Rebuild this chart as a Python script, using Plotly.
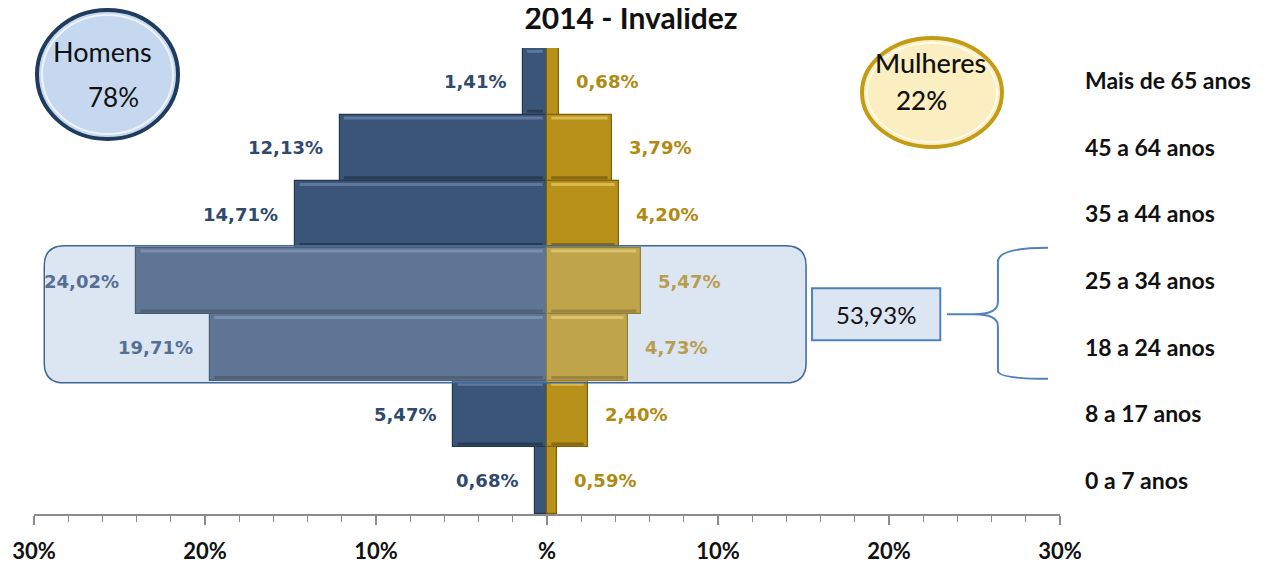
import plotly.graph_objects as go

# ---------------- data ----------------
categories = ["0 a 7 anos", "8 a 17 anos", "18 a 24 anos", "25 a 34 anos",
              "35 a 44 anos", "45 a 64 anos", "Mais de 65 anos"]
homens = [0.68, 5.47, 19.71, 24.02, 14.71, 12.13, 1.41]
mulheres = [0.59, 2.40, 4.73, 5.47, 4.20, 3.79, 0.68]
highlight_groups = ["18 a 24 anos", "25 a 34 anos"]
total_homens_pct = "78%"
total_mulheres_pct = "22%"
x_tickvals = [-30, -20, -10, 0, 10, 20, 30]
x_ticktext = ["30%", "20%", "10%", "%", "10%", "20%", "30%"]
title_text = "2014 - Invalidez"

# ---------------- styling ----------------
BLUE = "#3b5579"
BLUE_EDGE = "#24374f"
GOLD = "#b8911b"
GOLD_EDGE = "#7d610c"
LBL_BLUE = "#2f4a6d"
LBL_BLUE_HL = "#566f93"
LBL_GOLD = "#b08a12"
LBL_GOLD_HL = "#b89c50"
BOX_FILL = "#dce6f2"
BOX_LINE = "#4f81bd"
CAT_FONT = "Lato"
LBL_FONT = "DejaVu Sans"

# page body has an 8px margin: figure is 8px smaller on each axis
W, H = 1276, 556
OFF = 8

ypos = list(range(len(categories)))
hl_idx = [categories.index(c) for c in highlight_groups]

fig = go.Figure()
fig.add_trace(go.Bar(
    y=ypos, x=[-v for v in homens], orientation="h", name="Homens",
    marker=dict(color=BLUE, line=dict(color=BLUE_EDGE, width=1.2)),
    hoverinfo="skip"))
fig.add_trace(go.Bar(
    y=ypos, x=mulheres, orientation="h", name="Mulheres",
    marker=dict(color=GOLD, line=dict(color=GOLD_EDGE, width=1.2)),
    hoverinfo="skip"))

def fmt(v):
    return f"{v:.2f}%".replace(".", ",")

annotations = []
for i, (h, m) in enumerate(zip(homens, mulheres)):
    hl = i in hl_idx
    annotations.append(dict(
        x=-h, y=i, xref="x", yref="y", text=fmt(h), showarrow=False,
        xanchor="right", yanchor="middle", xshift=-15,
        font=dict(family=LBL_FONT, size=18, color=LBL_BLUE_HL if hl else LBL_BLUE, weight="bold")))
    annotations.append(dict(
        x=m, y=i, xref="x", yref="y", text=fmt(m), showarrow=False,
        xanchor="left", yanchor="middle", xshift=15,
        font=dict(family=LBL_FONT, size=18, color=LBL_GOLD_HL if hl else LBL_GOLD, weight="bold")))

shapes = []
# bevel highlights on bars (derived from data)
bw = 0.5
for i, (h, m) in enumerate(zip(homens, mulheres)):
    for x0, x1, light, dark in ((-h, 0, "rgba(140,165,200,0.45)", "rgba(20,30,45,0.45)"),
                                (0, m, "rgba(255,225,130,0.5)", "rgba(90,65,5,0.5)")):
        if x1 - x0 < 0.8:
            continue
        shapes.append(dict(type="line", xref="x", yref="y",
                           x0=x0 + 0.25, x1=x1 - 0.25, y0=i + bw - 0.05, y1=i + bw - 0.05,
                           line=dict(color=light, width=3), layer="above"))
        shapes.append(dict(type="line", xref="x", yref="y",
                           x0=x0 + 0.25, x1=x1 - 0.25, y0=i - bw + 0.05, y1=i - bw + 0.05,
                           line=dict(color=dark, width=3), layer="above"))

# highlight rounded box around the two groups
y_lo = min(hl_idx) - 0.53
y_hi = max(hl_idx) + 0.53
x_lo, x_hi = -29.4, 15.15
rx, ry = 1.2, 0.3
box_path = (f"M {x_lo+rx},{y_lo} L {x_hi-rx},{y_lo} Q {x_hi},{y_lo} {x_hi},{y_lo+ry} "
            f"L {x_hi},{y_hi-ry} Q {x_hi},{y_hi} {x_hi-rx},{y_hi} L {x_lo+rx},{y_hi} "
            f"Q {x_lo},{y_hi} {x_lo},{y_hi-ry} L {x_lo},{y_lo+ry} Q {x_lo},{y_lo} {x_lo+rx},{y_lo} Z")
shapes.append(dict(type="path", path=box_path, xref="x", yref="y",
                   fillcolor=BOX_FILL, line=dict(width=0), layer="below"))
shapes.append(dict(type="path", path=box_path, xref="x", yref="y",
                   fillcolor="rgba(220,230,242,0.22)", line=dict(color="#3f6797", width=1.5),
                   layer="above"))

# sum box
hl_sum = sum(homens[i] + mulheres[i] for i in hl_idx)
ymid = (min(hl_idx) + max(hl_idx)) / 2
shapes.append(dict(type="rect", xref="x", yref="y", x0=15.5, x1=23.0,
                   y0=ymid - 0.39, y1=ymid + 0.39,
                   fillcolor=BOX_FILL, line=dict(color=BOX_LINE, width=2)))
annotations.append(dict(x=19.25, y=ymid, xref="x", yref="y", text=f"{hl_sum:.2f}%".replace(".", ","),
                        showarrow=False, xanchor="center", yanchor="middle",
                        font=dict(family=CAT_FONT, size=24, color="#111111")))
# brace
bt, bb = y_hi - 0.03, y_lo + 0.06
brace = (f"M 29.3,{bt} Q 26.37,{bt} 26.37,{bt-0.21} L 26.37,{ymid+0.18} "
         f"Q 26.37,{ymid} 24.97,{ymid} L 23.39,{ymid} M 24.97,{ymid} "
         f"Q 26.37,{ymid} 26.37,{ymid-0.18} L 26.37,{bb+0.12} Q 26.37,{bb} 29.3,{bb}")
shapes.append(dict(type="path", path=brace, xref="x", yref="y",
                   line=dict(color=BOX_LINE, width=2)))

# circles (paper coords; plot area spans screen x 34..1060, y 48..514)
def px(x): return (x - 34) / 1026
def py(y): return (514 - y) / 466

shapes.append(dict(type="circle", xref="paper", yref="paper",
                   x0=px(37), x1=px(178), y0=py(139), y1=py(10),
                   fillcolor="#c6d8ef", line=dict(color="#1f3b5e", width=4)))
shapes.append(dict(type="circle", xref="paper", yref="paper",
                   x0=px(42), x1=px(173), y0=py(134), y1=py(15),
                   fillcolor="rgba(0,0,0,0)", line=dict(color="rgba(255,255,255,0.7)", width=2)))
shapes.append(dict(type="circle", xref="paper", yref="paper",
                   x0=px(862), x1=px(1002), y0=py(147), y1=py(38),
                   fillcolor="#fbeec0", line=dict(color="#c29c14", width=4)))
shapes.append(dict(type="circle", xref="paper", yref="paper",
                   x0=px(867), x1=px(997), y0=py(142), y1=py(43),
                   fillcolor="rgba(0,0,0,0)", line=dict(color="rgba(255,255,255,0.7)", width=2)))

annotations += [
    dict(x=px(102), y=py(52), xref="paper", yref="paper", text="Homens", showarrow=False,
         xanchor="center", yanchor="middle",
         font=dict(family=CAT_FONT, size=27, color="#111111")),
    dict(x=px(113), y=py(97), xref="paper", yref="paper", text=total_homens_pct, showarrow=False,
         xanchor="center", yanchor="middle",
         font=dict(family=CAT_FONT, size=26, color="#111111")),
    dict(x=px(930), y=py(63), xref="paper", yref="paper", text="Mulheres", showarrow=False,
         xanchor="center", yanchor="middle",
         font=dict(family=CAT_FONT, size=27, color="#111111", weight=500)),
    dict(x=px(921), y=py(100), xref="paper", yref="paper", text=total_mulheres_pct, showarrow=False,
         xanchor="center", yanchor="middle",
         font=dict(family=CAT_FONT, size=26, color="#111111", weight=500)),
]

fig.update_layout(
    width=W, height=H,
    margin=dict(l=34 - OFF, r=1284 - 1060, t=48 - OFF, b=(H + OFF) - 514, autoexpand=False),
    paper_bgcolor="white", plot_bgcolor="white",
    barmode="overlay", bargap=0.0,
    showlegend=False,
    title=dict(text=f"<b>{title_text}</b>", x=(631 - OFF) / W, xanchor="center",
               y=1, yanchor="top", pad=dict(t=0, b=0),
               font=dict(family=CAT_FONT, size=30, color="#111111")),
    xaxis=dict(range=[-30, 30], tickvals=x_tickvals, ticktext=x_ticktext, automargin=False,
               showgrid=False, zeroline=False, showline=True, linecolor="#8c8c8c", linewidth=1.5,
               ticks="outside", ticklen=9, tickcolor="#8c8c8c", tickwidth=1.5,
               minor=dict(dtick=2, ticks="outside", ticklen=6, tickcolor="#8c8c8c", tickwidth=1),
               tickfont=dict(family=CAT_FONT, size=22, color="#111111", weight="bold"),
               ticklabelstandoff=8, fixedrange=True),
    yaxis=dict(range=[-0.5, len(categories) - 0.5], tickvals=ypos, ticktext=categories,
               automargin=False,
               side="right", showgrid=False, zeroline=False, showline=False, ticks="",
               tickfont=dict(family=CAT_FONT, size=23, color="#111111", weight="bold"),
               ticklabelstandoff=24, fixedrange=True),
    shapes=shapes, annotations=annotations,
)

fig.write_html("out.html")
